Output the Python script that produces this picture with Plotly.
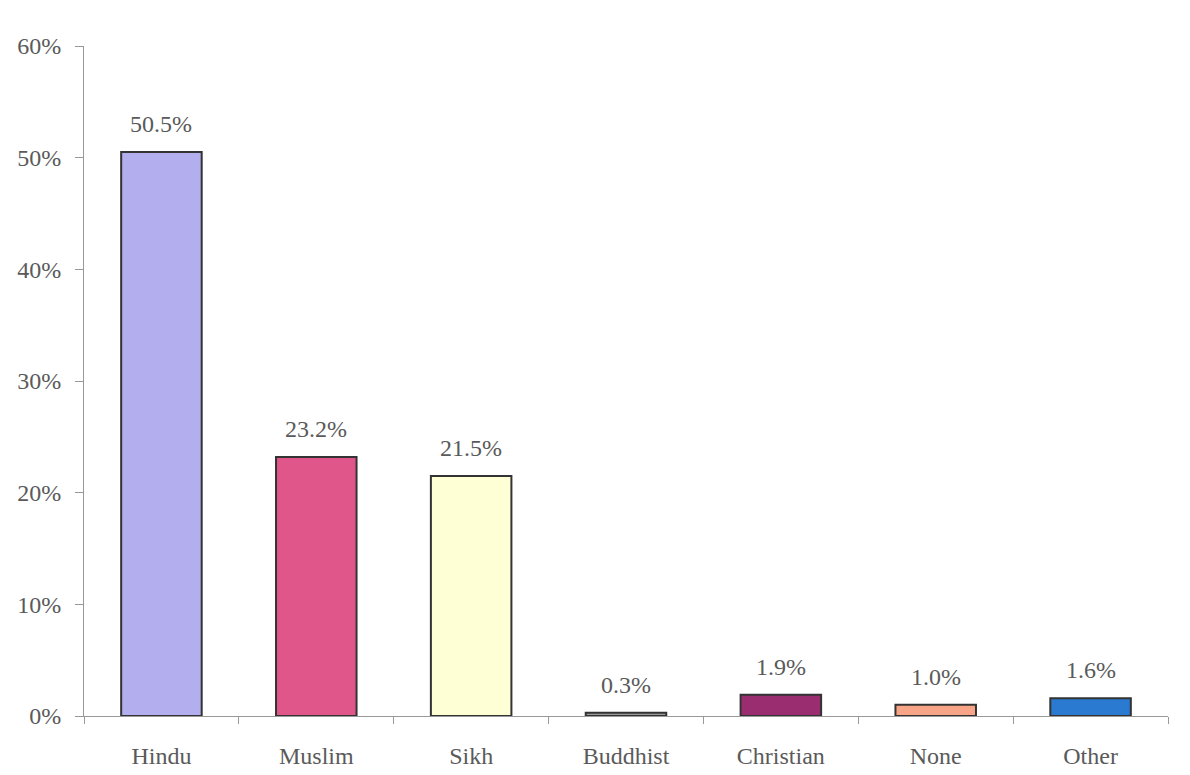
import plotly.graph_objects as go

categories = ["Hindu", "Muslim", "Sikh", "Buddhist", "Christian", "None", "Other"]
values = [50.5, 23.2, 21.5, 0.3, 1.9, 1.0, 1.6]
labels = ["50.5%", "23.2%", "21.5%", "0.3%", "1.9%", "1.0%", "1.6%"]
colors = ["#B3AEEE", "#E0568A", "#FFFFD6", "#9A9A9A", "#9A2C70", "#F8A486", "#2A7AD2"]
y_ticks = [0, 10, 20, 30, 40, 50, 60]
y_ticklabels = ["0%", "10%", "20%", "30%", "40%", "50%", "60%"]

font_family = "Liberation Serif, Times New Roman, serif"

fig = go.Figure(
    go.Bar(
        x=categories,
        y=values,
        marker=dict(color=colors, line=dict(color="#333333", width=2)),
        width=0.52,
    )
)

for cat, val, lab in zip(categories, values, labels):
    fig.add_annotation(
        x=cat, y=val, text=lab, showarrow=False,
        yanchor="bottom", yshift=13,
        font=dict(family=font_family, size=24, color="#5a5a5a"),
    )

fig.update_layout(
    width=1190,
    height=775,
    margin=dict(l=84, r=22, t=46, b=59),
    paper_bgcolor="white",
    plot_bgcolor="white",
    showlegend=False,
    font=dict(family=font_family, size=24, color="#5a5a5a"),
)

fig.update_yaxes(
    range=[0, 60],
    tickvals=y_ticks,
    ticktext=y_ticklabels,
    showgrid=False,
    zeroline=False,
    showline=True,
    linecolor="#999999",
    linewidth=1,
    ticks="outside",
    ticklen=8,
    tickcolor="#999999",
    ticklabelstandoff=9,
    automargin=False,
)

fig.update_xaxes(
    showgrid=False,
    showline=True,
    linecolor="#999999",
    linewidth=1,
    ticks="outside",
    tickson="boundaries",
    ticklen=7,
    tickcolor="#999999",
    ticklabelstandoff=18,
    automargin=False,
)

fig.write_html("out.html")
